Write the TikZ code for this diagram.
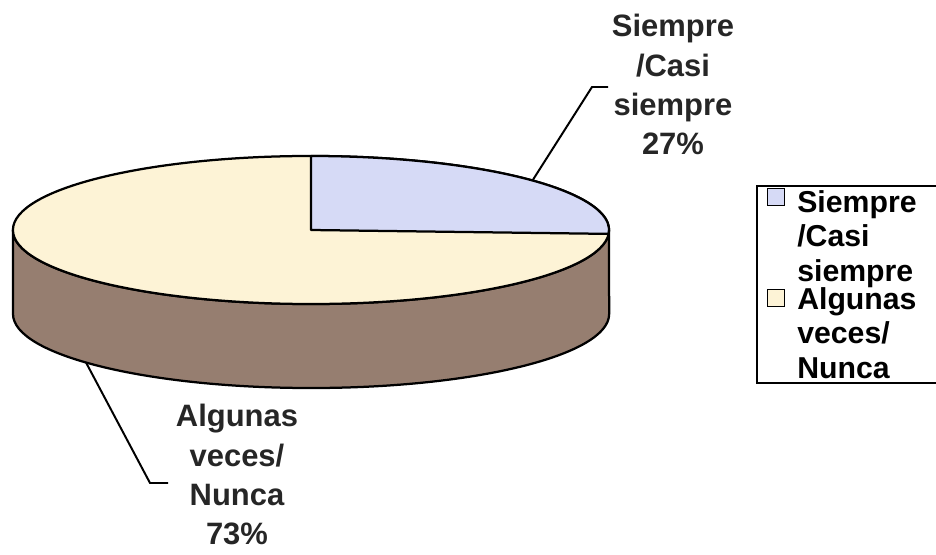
\documentclass[tikz,border=0pt]{standalone}
\usepackage{fontspec}
\setmainfont{Liberation Sans}
\usetikzlibrary{calc,positioning}

\definecolor{piebeige}{RGB}{253,243,214}
\definecolor{pieblue}{RGB}{214,218,246}
\definecolor{piebrown}{RGB}{150,126,112}

\begin{document}
\begin{tikzpicture}[x=0.025cm, y=0.025cm,
        rim/.style={draw=black, line width=1.6pt, line join=round},
        leader/.style={line width=1.4pt},
        lbl/.style={font=\fontsize{22}{28}\selectfont\bfseries, align=center, inner sep=0pt, text=black!85},
        lgd/.style={font=\fontsize{21.5}{24.5}\selectfont\bfseries, align=left, inner sep=0pt, anchor=north west},
        swatch/.style={draw=black, line width=1pt, minimum size=0.425cm, inner sep=0pt}]
        \useasboundingbox (0,0) rectangle (936,554);
        \coordinate (C) at (311,324);
        \coordinate (B) at (311,240);

        % Side of the pie.
        \filldraw[rim, fill=piebrown] (13,324) -- (13,240)
            arc[start angle=180, end angle=360, x radius=7.45cm, y radius=1.85cm]
            -- (609,324)
            arc[start angle=0, end angle=-180, x radius=7.45cm, y radius=1.85cm] -- cycle;

        % Top: Algunas veces/Nunca.
        \filldraw[rim, fill=piebeige] (C) ellipse[x radius=7.45cm, y radius=1.85cm];

        % Top: Siempre/Casi siempre.
        \filldraw[rim, fill=pieblue] (C) -- (311,398)
            arc[start angle=90, end angle=-3, x radius=7.45cm, y radius=1.85cm] -- cycle;

        % Data labels.
        \node[lbl, anchor=north] (siempre) at (673,540) {Siempre\\/Casi\\siempre\\27\%};
        \node[lbl, anchor=north] (algunas) at (237,150) {Algunas\\veces/\\Nunca\\73\%};

        \coordinate (s0) at ($(C)+(42:7.45cm and 1.85cm)$);
        \coordinate (s1) at (592,467);
        \coordinate (s2) at (608,467);
        \draw[leader] (s0) -- (s1) -- (s2);

        \coordinate (a0) at ($(B)+(221:7.45cm and 1.85cm)$);
        \coordinate (a1) at (150,71);
        \coordinate (a2) at (168,71);
        \draw[leader] (a0) -- (a1) -- (a2);

        % Legend.
        \draw[line width=1.2pt] (936,368) -- (757,368) -- (757,171) -- (936,171);
        \node[swatch, fill=pieblue] (sw1) at (776,357) {};
        \node[lgd] (lg1) at (797,364) {Siempre\\/Casi\\siempre};
        \node[swatch, fill=piebeige] (sw2) at (776,256) {};
        \node[lgd] (lg2) at (797,267) {Algunas\\veces/\\Nunca};

    \end{tikzpicture}
\end{document}
